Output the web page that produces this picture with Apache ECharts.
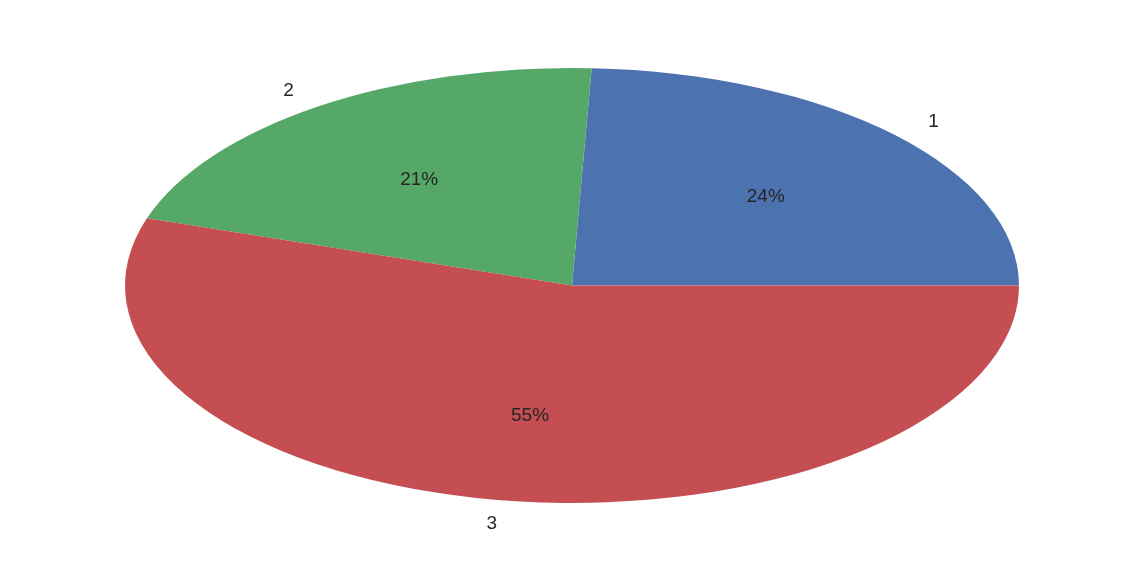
<!DOCTYPE html>
<html><head><meta charset="utf-8">
<script src="https://cdn.jsdelivr.net/npm/echarts@6/dist/echarts.min.js"></script>
<style>html,body{margin:0;padding:0;background:#fff}#c{width:1144px;height:572px}</style>
</head><body><div id="c"></div>
<script>
const categories = ['1', '2', '3'];
const values = [24.3, 20.7, 55.0];
const colors = ['#4C72B0', '#55A868', '#C44E52'];

const total = values.reduce((a, b) => a + b, 0);
const starts = [];
let acc = 0;
values.forEach(v => { starts.push(acc); acc += v; });

const chart = echarts.init(document.getElementById('c'), null, {renderer: 'canvas'});
const CX = 572, CY = 285.5, RX = 447, RY = 217.5;
const FONT = 'Liberation Sans, Arial, sans-serif';

chart.setOption({
  backgroundColor: '#ffffff',
  animation: false,
  series: [{
    type: 'custom',
    coordinateSystem: 'none',
    data: values.map((v, i) => [i, v]),
    renderItem: function (params, api) {
      const i = api.value(0);
      const v = api.value(1);
      const a0 = starts[i] / total * Math.PI * 2;
      const a1 = (starts[i] + v) / total * Math.PI * 2;
      const mid = (a0 + a1) / 2;
      const cm = Math.cos(mid), sm = Math.sin(mid);
      const pct = Math.round(v / total * 100) + '%';
      return {
        type: 'group',
        children: [
          {
            type: 'sector',
            x: CX, y: CY, scaleX: 1, scaleY: RY / RX,
            shape: {cx: 0, cy: 0, r0: 0, r: RX, startAngle: -a0, endAngle: -a1, clockwise: false},
            style: {fill: colors[i], stroke: null}
          },
          {
            type: 'text',
            x: CX + 1.1 * RX * cm + (cm >= 0 ? 1 : 2), y: CY - 1.1 * RY * sm + 2,
            style: {text: categories[i], fill: '#262626', font: '19px ' + FONT,
                    align: cm >= 0 ? 'left' : 'right', verticalAlign: 'middle'}
          },
          {
            type: 'text',
            x: CX + 0.6 * RX * cm, y: CY - 0.6 * RY * sm + 1.5,
            style: {text: pct, fill: '#262626', font: '19px ' + FONT,
                    align: 'center', verticalAlign: 'middle'}
          }
        ]
      };
    }
  }]
});
</script></body></html>
